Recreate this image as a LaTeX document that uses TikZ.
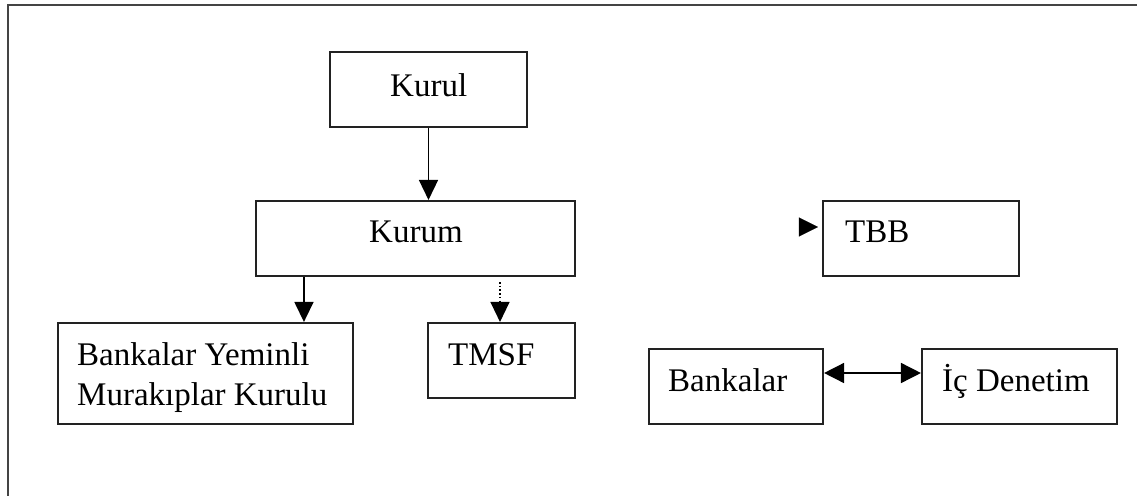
\documentclass[tikz,border=0pt]{standalone}
\usepackage{fontspec}
\setmainfont{Liberation Serif}
\usetikzlibrary{arrows.meta}
\definecolor{framegray}{HTML}{444444}
\definecolor{boxline}{HTML}{222222}
\begin{document}
\begin{tikzpicture}[x=1pt,y=-1pt,
  box/.style={draw=boxline,line width=2.1pt,rectangle,inner sep=0pt},
  lbl/.style={anchor=base west,inner sep=0pt,font=\fontsize{33}{40}\selectfont},
  arr/.style={line width=1.5pt,-{Triangle[width=19pt,length=20pt]}},
  darr/.style={line width=1.5pt,{Triangle[width=20pt,length=20pt]}-{Triangle[width=20pt,length=20pt]}},
  dotarr/.style={line width=1.2pt,dash pattern=on 1.5pt off 2.2pt,-{Triangle[width=19pt,length=20pt]}}]
\useasboundingbox (0,0) rectangle (1137,495);
% outer frame
\draw[framegray,line width=2.6pt] (1140,5) -- (8,5) -- (8,498);
% boxes
\node[box,minimum width=197pt,minimum height=75pt] (kurul) at (428.5,89.5) {};
\node[box,minimum width=319pt,minimum height=75pt] (kurum) at (415.5,238.5) {};
\node[box,minimum width=196pt,minimum height=75pt] (tbb) at (921,238.5) {};
\node[box,minimum width=295pt,minimum height=101pt] (bymk) at (205.5,373.5) {};
\node[box,minimum width=147pt,minimum height=75pt] (tmsf) at (501.5,360.5) {};
\node[box,minimum width=174pt,minimum height=75pt] (bankalar) at (736,386.5) {};
\node[box,minimum width=195pt,minimum height=75pt] (icdenetim) at (1019.5,386.5) {};
% labels
\node[lbl] (tkurul) at (390,96) {Kurul};
\node[lbl] (tkurum) at (369,242) {Kurum};
\node[lbl] (ttbb) at (845,242) {TBB};
\node[lbl] (tbymka) at (77,365) {Bankalar Yeminli};
\node[lbl] (tbymkb) at (77,405) {Murakıplar Kurulu};
\node[lbl] (ttmsf) at (448,365) {TMSF};
\node[lbl] (tbankalar) at (668,391) {Bankalar};
\node[lbl] (ticd) at (942,391) {İç Denetim};
% connectors
\draw[arr] (kurul.south) -- (kurul.south |- kurum.north);
\coordinate (a1) at ([xshift=49pt]kurum.south west);
\draw[arr] (a1) -- (a1 |- bymk.north);
\coordinate (d1) at (500,282);
\draw[dotarr] (d1) -- (d1 |- tmsf.north);
\coordinate (tbbin) at (800,227);
\draw[line width=0.1pt,shorten >=4pt,-{Triangle[width=19pt,length=19pt]}] (tbbin) -- (tbbin -| tbb.west);
\draw[darr] (bankalar.east |- 0,373) -- (icdenetim.west |- 0,373);
\end{tikzpicture}
\end{document}
